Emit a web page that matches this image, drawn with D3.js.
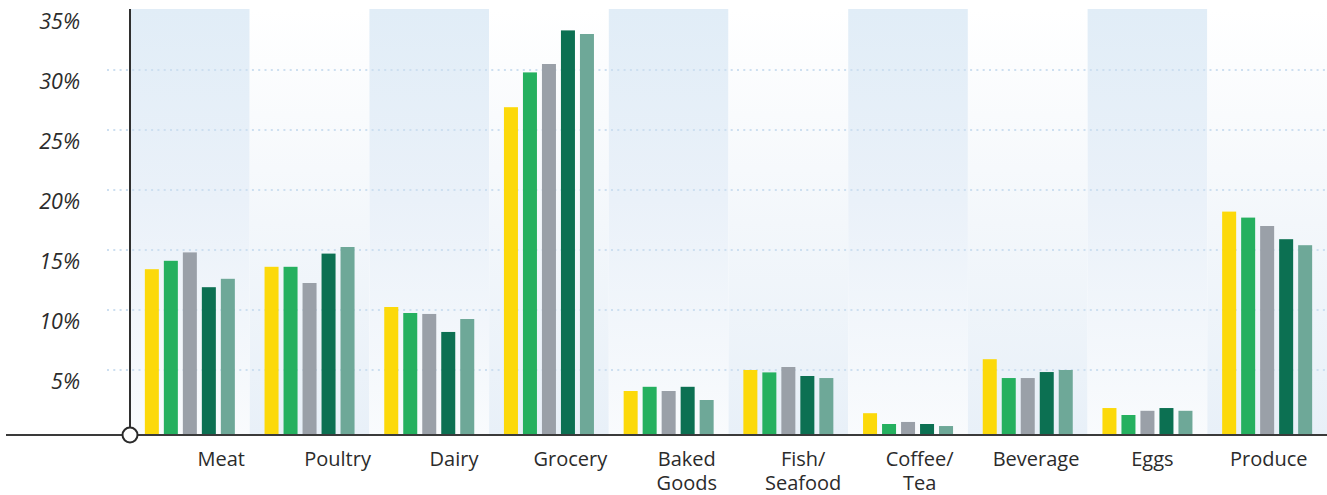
<!DOCTYPE html>
<html>
<head>
<meta charset="utf-8">
<script src="https://cdn.jsdelivr.net/npm/d3@7/dist/d3.min.js"></script>
<style>
  html, body { margin: 0; padding: 0; background: #fff; }
  svg { display: block; }
</style>
</head>
<body>
<svg id="chart" width="1327" height="495"></svg>
<script>
// ---- data ----
const categories = ["Meat", "Poultry", "Dairy", "Grocery", "Baked Goods", "Fish/ Seafood", "Coffee/ Tea", "Beverage", "Eggs", "Produce"];
const seriesNames = ["S1", "S2", "S3", "S4", "S5"];
const seriesColors = ["#fcd90a", "#25b05f", "#9aa0a8", "#0c7052", "#6ea898"];
const s1 = [13.4, 13.6, 10.25, 26.9, 3.25, 5.0, 1.4, 5.9, 1.83, 18.2];
const s2 = [14.1, 13.6, 9.75, 29.8, 3.6, 4.8, 0.5, 4.33, 1.25, 17.7];
const s3 = [14.8, 12.25, 9.67, 30.5, 3.25, 5.25, 0.67, 4.33, 1.6, 17.0];
const s4 = [11.9, 14.7, 8.17, 33.3, 3.6, 4.5, 0.5, 4.83, 1.83, 15.9];
const s5 = [12.6, 15.25, 9.25, 33.0, 2.5, 4.33, 0.33, 5.0, 1.6, 15.4];
const yTicks = [5, 10, 15, 20, 25, 30, 35];

const seriesValues = [s1, s2, s3, s4, s5];

(function () {
// ---- layout ----
const svg = d3.select("#chart");
const W = 1327;
const plotLeft = 130, plotRight = 1327, plotTop = 9, baseline = 435;

const y = d3.scaleLinear().domain([0, 35]).range([430, 10]);
const x0 = d3.scaleBand().domain(categories).range([plotLeft, plotRight]).padding(0);
const groupW = 90;
const x1 = d3.scaleBand().domain(seriesNames).range([0, groupW]).paddingInner(0.263).paddingOuter(0);
const xLabel = d3.scaleBand().domain(categories).range([163, 1327]).padding(0);
const font = "'Open Sans', Lato, sans-serif";

// gradients
const defs = svg.append("defs");
const gA = defs.append("linearGradient").attr("id", "bandA").attr("x1", 0).attr("y1", 0).attr("x2", 0).attr("y2", 1);
gA.append("stop").attr("offset", "0%").attr("stop-color", "#e1edf7");
gA.append("stop").attr("offset", "45%").attr("stop-color", "#eaf1f9");
gA.append("stop").attr("offset", "100%").attr("stop-color", "#f9fbfd");
const gB = defs.append("linearGradient").attr("id", "bandB").attr("x1", 0).attr("y1", 0).attr("x2", 0).attr("y2", 1);
gB.append("stop").attr("offset", "0%").attr("stop-color", "#ffffff");
gB.append("stop").attr("offset", "50%").attr("stop-color", "#f3f7fb");
gB.append("stop").attr("offset", "100%").attr("stop-color", "#e8f0f8");

// background bands
svg.append("g").selectAll("rect").data(categories).join("rect")
  .attr("x", d => x0(d))
  .attr("y", plotTop)
  .attr("width", x0.bandwidth())
  .attr("height", baseline - plotTop)
  .attr("fill", (d, i) => i % 2 === 0 ? "url(#bandA)" : "url(#bandB)");

// gridlines
svg.append("g").selectAll("line").data(yTicks.filter(t => t < 35)).join("line")
  .attr("x1", 107).attr("x2", W)
  .attr("y1", d => y(d)).attr("y2", d => y(d))
  .attr("stroke", "#cddff0")
  .attr("stroke-width", 2)
  .attr("stroke-dasharray", "2,4.3");

// bars
const groups = svg.append("g").selectAll("g").data(categories).join("g")
  .attr("transform", d => `translate(${x0(d) + (x0.bandwidth() - groupW) / 2},0)`);
groups.selectAll("rect").data((d, ci) => seriesNames.map((s, si) => ({ s, si, v: seriesValues[si][ci] })))
  .join("rect")
  .attr("x", d => x1(d.s))
  .attr("width", x1.bandwidth())
  .attr("y", d => y(d.v))
  .attr("height", d => baseline - 1 - y(d.v))
  .attr("fill", d => seriesColors[d.si]);

// y axis labels
svg.append("g").selectAll("text").data(yTicks).join("text")
  .attr("x", 80)
  .attr("y", d => y(d) + 19)
  .attr("text-anchor", "end")
  .attr("font-family", font)
  .attr("font-style", "italic")
  .attr("font-size", 21.5)
  .attr("fill", "#2b2b2b")
  .text(d => d + "%");

// axes lines
svg.append("line").attr("x1", plotLeft).attr("x2", plotLeft).attr("y1", plotTop).attr("y2", baseline)
  .attr("stroke", "#2f2f2f").attr("stroke-width", 2);
svg.append("line").attr("x1", 6).attr("x2", W).attr("y1", baseline).attr("y2", baseline)
  .attr("stroke", "#3a3a3a").attr("stroke-width", 2);
svg.append("circle").attr("cx", plotLeft).attr("cy", baseline).attr("r", 7.5)
  .attr("fill", "#fff").attr("stroke", "#2a2a2a").attr("stroke-width", 2);

// x labels
const xl = svg.append("g").selectAll("text").data(categories).join("text")
  .attr("x", d => xLabel(d) + xLabel.bandwidth() / 2)
  .attr("y", 466)
  .attr("text-anchor", "middle")
  .attr("font-family", font)
  .attr("font-size", 20)
  .attr("fill", "#2b2b2b");
xl.each(function(d) {
  const parts = d === "Baked Goods" ? ["Baked", "Goods"] : d.split(" ");
  const t = d3.select(this);
  parts.forEach((p, i) => {
    t.append("tspan").attr("x", xLabel(d) + xLabel.bandwidth() / 2).attr("dy", i === 0 ? 0 : 24).text(p);
  });
});
})();
</script>
</body>
</html>
